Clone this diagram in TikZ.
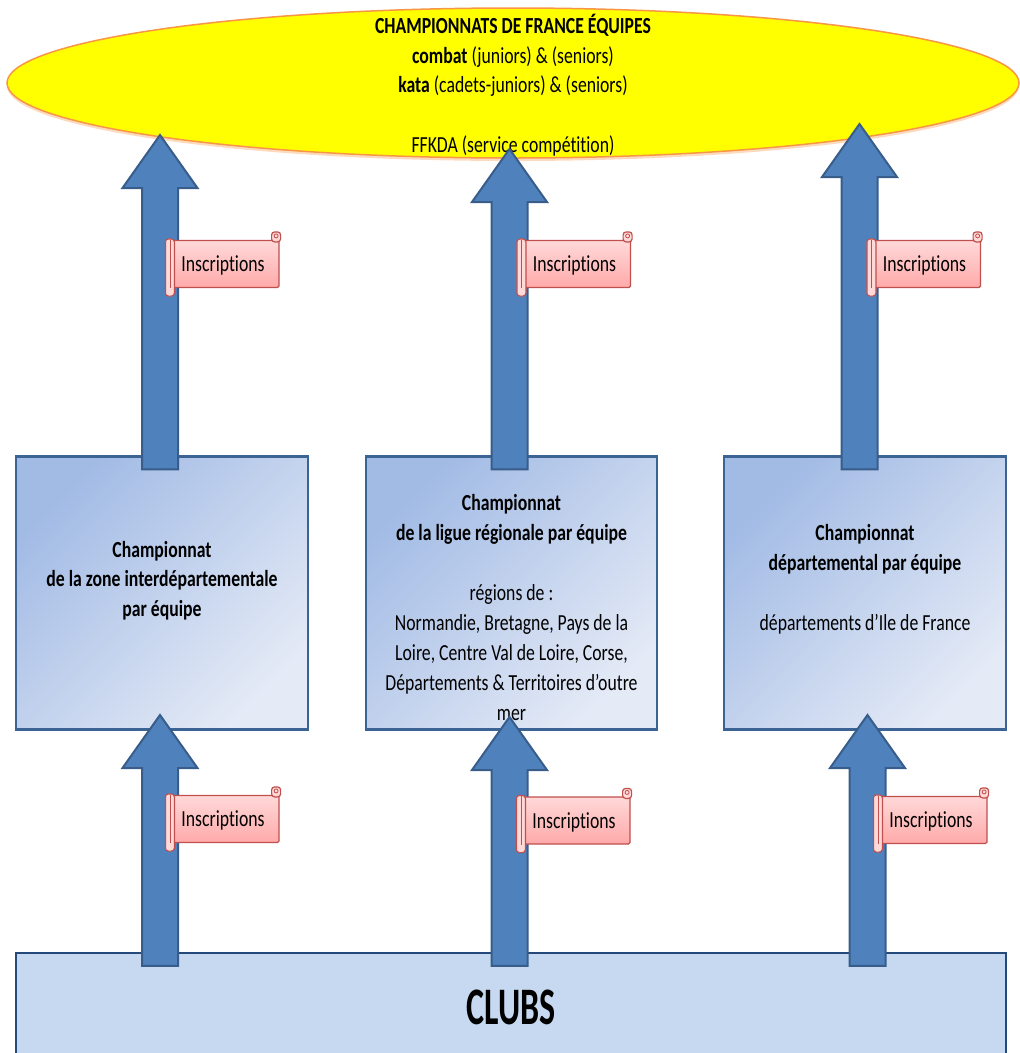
\documentclass[tikz,border=0pt]{standalone}
\usepackage{fontspec}
\usepackage{graphicx}
\setmainfont{Carlito}[Ligatures=NoCommon]
\usetikzlibrary{shapes.geometric,calc,shadows}

\definecolor{titrefill}{HTML}{FFFF00}
\definecolor{titreline}{HTML}{F79646}
\definecolor{arrowfill}{HTML}{4F81BD}
\definecolor{arrowline}{HTML}{385D8A}
\definecolor{boxline}{HTML}{3B6494}
\definecolor{boxdark}{HTML}{A2BBE5}
\definecolor{boxlight}{HTML}{E4EAF6}
\definecolor{clubsfill}{HTML}{C6D9F1}
\definecolor{clubsline}{HTML}{25497A}
\definecolor{scrolltop}{HTML}{FFD8D8}
\definecolor{scrollbot}{HTML}{FFA9A9}
\definecolor{scrollline}{HTML}{C0504D}

% text stretched in height, as on the slide
\newcommand{\tallbox}[2][1.3]{\scalebox{1}[#1]{\begin{tabular}{@{}c@{}}#2\end{tabular}}}

% block arrow from the foot #1 up to the tip #2
\newcommand{\blockup}[2]{%
  \filldraw[blockarrow] let \p1=(#1), \p2=(#2) in
    (\x2-18pt,\y1) -- (\x2-18pt,\y2-53pt) -- (\x2-37.5pt,\y2-53pt) -- (\x2,\y2)
    -- (\x2+37.5pt,\y2-53pt) -- (\x2+18pt,\y2-53pt) -- (\x2+18pt,\y1) -- cycle;}

% rolled ends of a scroll
\newcommand{\scrollends}[1]{%
  \filldraw[scrollroll] ([xshift=-1pt,yshift=1pt]#1.north west) rectangle ([xshift=8pt,yshift=-8pt]#1.south west);
  \draw[scrollline, line width=0.8pt] ([xshift=3.5pt]#1.north west) -- ([xshift=3.5pt]#1.south west);
  \filldraw[scrollroll] ([xshift=-8pt,yshift=-2pt]#1.north east) rectangle ([xshift=1pt,yshift=8pt]#1.north east);
  \draw[scrollline, line width=0.8pt] ([xshift=-3.5pt,yshift=4pt]#1.north east) circle (2pt);}

\tikzset{
  titre/.style={ellipse, draw=titreline, line width=1.5pt, fill=titrefill,
    minimum width=1012, minimum height=150, inner sep=0pt,
    drop shadow={fill=titreline, shadow xshift=0pt, shadow yshift=-3pt, opacity=0.35}},
  champbox/.style={draw=boxline, line width=2.2pt, top color=boxdark, bottom color=boxlight,
    shading angle=45, minimum height=273, inner sep=0pt},
  clubsbox/.style={draw=clubsline, line width=2.5pt, fill=clubsfill,
    minimum width=990, minimum height=114, inner sep=0pt},
  txt/.style={font=\fontsize{17.7}{23}\selectfont, inner sep=0pt},
  blockarrow/.style={fill=arrowfill, draw=arrowline, line width=2pt},
  scrollbox/.style={draw=scrollline, line width=1.2pt, top color=scrolltop, bottom color=scrollbot,
    minimum width=112, minimum height=47, inner sep=0pt, rounded corners=1.5pt,
    font=\fontsize{17.7}{23}\selectfont},
  scrollroll/.style={draw=scrollline, line width=1.2pt, fill=scrolltop, rounded corners=3pt}
}

\begin{document}
\begin{tikzpicture}[x=1pt, y=-1pt]
  \useasboundingbox (0,0) rectangle (1020,1053);

  \node[titre] (france) at (513,83) {};
  \node[champbox, minimum width=292] (zone) at (162,593) {};
  \node[champbox, minimum width=291] (ligue) at (511.5,593) {};
  \node[champbox, minimum width=282] (dept) at (865,593) {};
  \node[clubsbox] (clubs) at (511,1010) {\tallbox[1.55]{\fontsize{34}{34}\selectfont\bfseries CLUBS}};

  \node[txt] (francetxt) at (513,87) {\tallbox{\textbf{CHAMPIONNATS DE FRANCE ÉQUIPES}\\
    \textbf{combat} (juniors) \& (seniors)\\ \textbf{kata} (cadets-juniors) \& (seniors)\\ \\
    FFKDA (service compétition)}};
  \node[txt] (zonetxt) at (162,581) {\tallbox{\textbf{Championnat}\\
    \textbf{de la zone interdépartementale}\\ \textbf{par équipe}}};
  \node[txt] (liguetxt) at (511.5,609.5) {\tallbox{\textbf{Championnat}\\
    \textbf{de la ligue régionale par équipe}\\ \\ régions de :\\
    Normandie, Bretagne, Pays de la\\ Loire, Centre Val de Loire, Corse,\\
    Départements \& Territoires d’outre\\ mer}};
  \node[txt] (depttxt) at (865,579.5) {\tallbox{\textbf{Championnat}\\
    \textbf{départemental par équipe}\\ \\ départements d’Ile de France}};

  \coordinate (zoneout) at (160,135);
  \coordinate (ligueout) at (509.5,149);
  \coordinate (deptout) at (859.5,124);
  \coordinate (zonein) at (160,715);
  \coordinate (liguein) at (509.5,717);
  \coordinate (deptin) at (867.5,715);

  \blockup{[yshift=-14pt]zone.north}{zoneout}
  \blockup{[yshift=-14pt]ligue.north}{ligueout}
  \blockup{[yshift=-14pt]dept.north}{deptout}
  \blockup{[yshift=-14pt]clubs.north}{zonein}
  \blockup{[yshift=-14pt]clubs.north}{liguein}
  \blockup{[yshift=-14pt]clubs.north}{deptin}

  \node[scrollbox] (insA) at (223,264) {\tallbox{\raisebox{-1.5pt}{Inscriptions}}};
  \node[scrollbox] (insB) at (574.5,264) {\tallbox{\raisebox{-1.5pt}{Inscriptions}}};
  \node[scrollbox] (insC) at (924.5,264) {\tallbox{\raisebox{-1.5pt}{Inscriptions}}};
  \node[scrollbox] (insD) at (223,819) {\tallbox{\raisebox{-1.5pt}{Inscriptions}}};
  \node[scrollbox] (insE) at (574,820.5) {\tallbox{\raisebox{-1.5pt}{Inscriptions}}};
  \node[scrollbox] (insF) at (931,820) {\tallbox{\raisebox{-1.5pt}{Inscriptions}}};
  \foreach \s in {insA,insB,insC,insD,insE,insF}
    \scrollends{\s};
\end{tikzpicture}
\end{document}
